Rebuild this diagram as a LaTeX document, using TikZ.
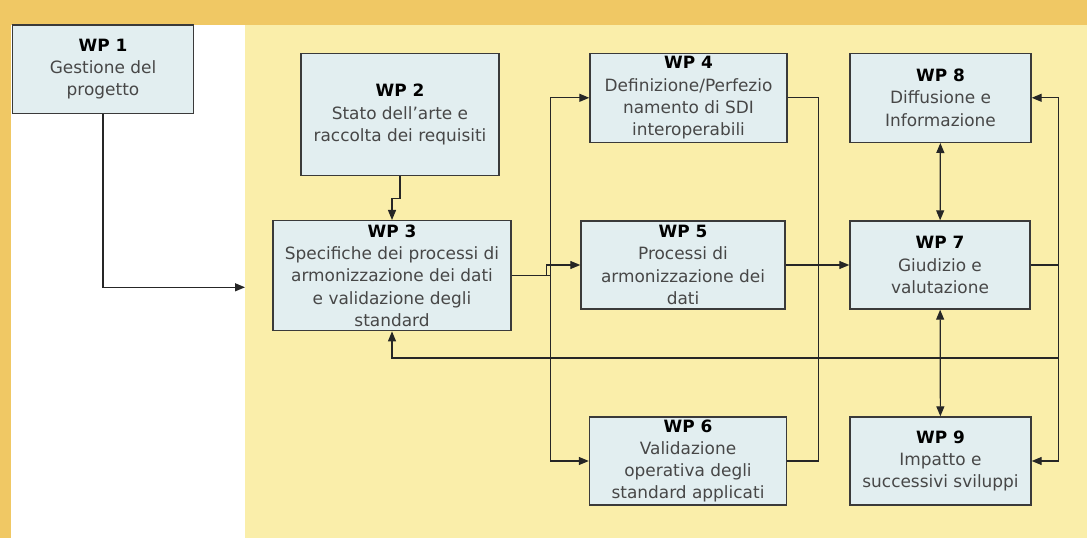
\documentclass[tikz,border=0pt]{standalone}
\usepackage{fontspec}
\setmainfont{DejaVu Sans}
\usepackage{tikz}
\usepackage{xcolor}
\usetikzlibrary{arrows.meta}

\definecolor{bandorange}{HTML}{F0C864}
\definecolor{areayellow}{HTML}{FAEEAA}
\definecolor{boxblue}{HTML}{E2EEF0}
\definecolor{inkgray}{HTML}{3A3A3A}

\newcommand{\wptitle}[1]{\textcolor{black}{\textbf{#1}}}

\begin{document}
\begin{tikzpicture}[
    x=1bp, y=-1bp,
    wpbox/.style={draw=inkgray, fill=boxblue, line width=1.4bp, rectangle, align=center,
        inner sep=0pt, text=black!72, font=\fontsize{17}{22.3}\selectfont},
    arrow/.style={-{Triangle[length=10bp,width=8bp]}, line width=1.2bp, draw=black!85},
    darrow/.style={{Triangle[length=10bp,width=8bp]}-{Triangle[length=10bp,width=8bp]}, line width=1.2bp, draw=black!85},
    line/.style={line width=1.2bp, draw=black!85}
]
    % Background
    \useasboundingbox (0,0) rectangle (1087,538);
    \fill[bandorange] (0,0) rectangle (1087,538);
    \fill[white] (11,25) rectangle (245,538);
    \fill[areayellow] (245,25) rectangle (1087,538);

    % Nodes
    \node[wpbox, minimum width=181bp, minimum height=88.5bp] (wp1) at (103,69.3)
        {\wptitle{WP 1}\\Gestione del\\progetto};
    \node[wpbox, minimum width=198bp, minimum height=122.4bp] (wp2) at (400,114.5)
        {\wptitle{WP 2}\\Stato dell’arte e\\raccolta dei requisiti};
    \node[wpbox, minimum width=238bp, minimum height=110bp] (wp3) at (392,275.7)
        {\wptitle{WP 3}\\Specifiche dei processi di\\armonizzazione dei dati\\e validazione degli\\standard};
    \node[wpbox, minimum width=197bp, minimum height=89bp] (wp4) at (688.5,97.8)
        {\wptitle{WP 4}\\Definizione/Perfezio\\namento di SDI\\interoperabili};
    \node[wpbox, minimum width=204bp, minimum height=88bp] (wp5) at (683,265)
        {\wptitle{WP 5}\\Processi di\\armonizzazione dei\\dati};
    \node[wpbox, minimum width=197bp, minimum height=88bp] (wp6) at (688,461)
        {\wptitle{WP 6}\\Validazione\\operativa degli\\standard applicati};
    \node[wpbox, minimum width=180bp, minimum height=88bp] (wp7) at (940,265)
        {\wptitle{WP 7}\\Giudizio e\\valutazione};
    \node[wpbox, minimum width=181bp, minimum height=89bp] (wp8) at (940.5,97.8)
        {\wptitle{WP 8}\\Diffusione e\\Informazione};
    \node[wpbox, minimum width=181bp, minimum height=88bp] (wp9) at (940.5,461)
        {\wptitle{WP 9}\\Impatto e\\successivi sviluppi};

    \coordinate (gate) at (245,287.3);
    \coordinate (back) at (1058,358);

    % Connections
    \draw[arrow] (wp1.south) |- (gate);
    \draw[arrow] (wp2.south) -- ++(0,22) -| (wp3.north);
    \draw[arrow] (wp3.east) -- ++(39,0) |- (wp4.west);
    \draw[arrow] (wp3.east) -- ++(39,0) |- (wp6.west);
    \draw[arrow] ([xshift=35bp]wp3.east) |- (wp5.west);
    \draw[line] (wp4.east) -- ++(31,0) |- (wp6.east);
    \draw[arrow] (wp5.east) -- (wp7.west);
    \draw[arrow] (wp7.east) -- ++(28,0) |- (wp8.east);
    \draw[arrow] (wp7.east) -- ++(28,0) |- (wp9.east);
    \draw[arrow] (back) -| (wp3.south);
    \draw[darrow] (wp8) -- (wp7);
    \draw[darrow] (wp7) -- (wp9);
\end{tikzpicture}
\end{document}
